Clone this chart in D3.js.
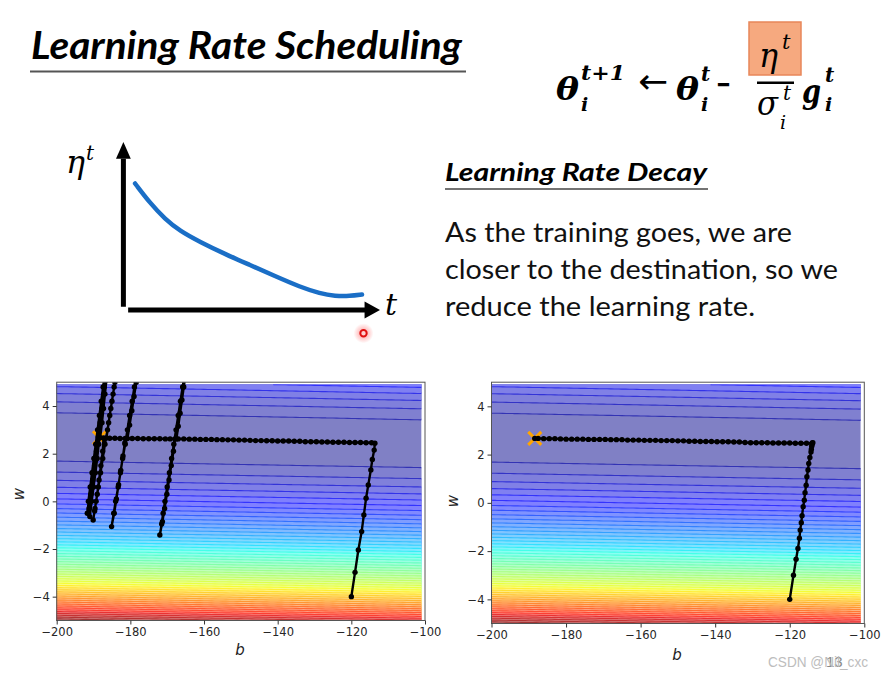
<!DOCTYPE html>
<html><head><meta charset="utf-8">
<script src="https://cdn.jsdelivr.net/npm/d3@7"></script>
<style>body{margin:0;background:#fff} svg{display:block}</style>
</head><body>
<svg id="c" width="884" height="677"></svg>
<script>
// ---------- DATA ----------
const xData = [338, 333, 328, 207, 226, 25, 179, 60, 208, 606];
const yData = [640, 633, 619, 393, 428, 27, 193, 66, 226, 1591];
const bGrid = d3.range(-200, -100, 1);
const wGrid = d3.range(0, 100).map(j => +(-5 + j * 0.1).toFixed(2));
const bTicks = [-200, -180, -160, -140, -120, -100];
const wTicks = [-4, -2, 0, 2, 4];
const optimum = [-188.4, 2.67];

// eta-t sketch curve
const tData =   [0.47, 1.05, 1.63, 2.22, 3.00, 3.97, 4.94, 5.91, 6.89, 7.67, 8.25, 8.83, 9.30];
const etaData = [7.53, 6.37, 5.42, 4.70, 4.05, 3.33, 2.68, 2.02, 1.37, 0.98, 0.83, 0.83, 0.92];

// trajectory: without decay (left)
const leftPath = [
 [-120.0,-4.00],[-119.0,-2.98],[-118.1,-2.04],[-117.2,-1.27],[-116.6,-0.57],[-116.0,0.13],[-115.4,0.69],
 [-114.7,1.32],[-114.3,1.76],[-113.8,2.15],[-113.6,2.44],
 [-114.5,2.46],[-116.0,2.46],[-117.5,2.47],[-119.0,2.47],[-120.5,2.47],[-122.0,2.48],[-123.5,2.48],[-125.0,2.48],
 [-126.5,2.49],[-128.0,2.49],[-129.5,2.50],[-131.0,2.50],[-132.5,2.50],[-134.0,2.52],[-135.5,2.52],[-137.0,2.53],
 [-138.5,2.53],[-140.0,2.53],[-141.5,2.54],[-143.0,2.54],[-144.5,2.55],[-146.0,2.55],[-147.5,2.56],[-149.0,2.57],
 [-150.5,2.57],[-152.0,2.58],[-153.5,2.58],[-155.0,2.59],[-156.5,2.59],[-158.0,2.60],[-159.5,2.60],[-161.0,2.60],
 [-162.5,2.61],[-164.0,2.61],[-165.5,2.62],[-167.0,2.62],[-167.5,2.62],
 [-167.0,3.15],[-166.5,3.70],[-166.0,4.25],[-165.5,4.80],[-165.0,5.35],[-162.1,8.50],
 [-165.2,5.40],[-165.8,4.80],[-166.4,4.20],[-167.0,3.60],[-167.6,3.00],[-168.2,2.40],[-168.8,1.80],[-169.4,1.20],
 [-170.0,0.60],[-170.6,0.00],[-171.1,-0.50],[-171.5,-0.95],[-172.0,-1.41],
 [-171.3,-0.85],[-170.7,-0.30],[-170.1,0.30],[-169.5,0.90],[-168.9,1.50],[-168.3,2.10],[-167.9,2.62],
 [-169.2,2.62],[-170.5,2.62],[-172.0,2.63],[-173.5,2.63],[-175.0,2.63],[-176.5,2.63],[-178.0,2.64],[-179.5,2.64],[-180.8,2.64],
 [-180.2,3.20],[-179.6,3.80],[-179.0,4.40],[-178.4,5.00],[-175.5,8.50],
 [-178.3,5.40],[-178.9,4.80],[-179.5,4.20],[-180.2,3.60],[-180.8,3.00],[-181.4,2.40],[-182.1,1.80],[-182.7,1.20],
 [-183.3,0.60],[-184.0,0.00],[-184.5,-0.50],[-185.1,-1.06],
 [-184.4,-0.50],[-183.8,0.10],[-183.2,0.70],[-182.6,1.30],[-182.0,1.90],[-181.5,2.45],[-181.4,2.64],
 [-182.8,2.64],[-184.2,2.65],[-185.6,2.65],[-186.5,2.66],
 [-185.9,3.30],[-185.3,3.90],[-184.7,4.50],[-184.2,5.00],[-181.0,8.50],
 [-183.8,5.40],[-184.4,4.80],[-185.0,4.20],[-185.6,3.60],[-186.2,3.00],[-186.9,2.40],[-187.5,1.80],[-188.1,1.20],
 [-188.7,0.60],[-189.3,0.00],[-189.7,-0.40],[-190.1,-0.78],
 [-189.6,-0.30],[-189.0,0.30],[-188.5,0.90],[-188.0,1.50],[-187.5,2.10],[-187.3,2.66],[-188.2,2.67],
 [-187.7,3.30],[-187.3,3.90],[-186.9,4.50],[-186.5,5.10],[-183.5,8.50],
 [-186.6,5.40],[-187.1,4.80],[-187.6,4.20],[-188.1,3.60],[-188.7,3.00],[-189.2,2.40],[-189.7,1.80],[-190.2,1.20],
 [-190.7,0.60],[-191.3,0.00],[-191.7,-0.50],
 [-191.2,-0.30],[-190.7,0.30],[-190.2,0.90],[-189.7,1.50],[-189.2,2.10],[-188.7,2.70],[-188.2,3.30],[-187.7,3.90],
 [-187.2,4.50],[-186.7,5.10],[-184.0,8.50],
 [-186.9,5.40],[-187.4,4.80],[-187.9,4.20],[-188.4,3.60],[-188.9,3.00],[-189.4,2.40],[-189.9,1.80],[-190.4,1.20],
 [-190.9,0.60],[-191.4,0.00],[-191.0,-0.64],
 [-190.5,0.00],[-190.0,0.60],[-189.5,1.20],[-189.0,1.80],[-188.6,2.40],[-188.4,2.67]
];

// trajectory: with decay (right)
const rightPath = [
 [-120.0,-4.00],[-119.0,-3.00],[-118.3,-2.34],[-117.8,-1.89],[-117.4,-1.47],[-117.2,-1.13],[-116.9,-0.82],
 [-116.7,-0.53],[-116.4,-0.16],[-116.1,0.11],[-115.9,0.42],[-115.6,0.73],[-115.4,1.08],[-115.1,1.36],
 [-114.9,1.63],[-114.6,1.88],[-114.3,2.11],[-114.2,2.22],[-114.1,2.35],[-114.0,2.42],[-113.8,2.49],
 [-114.0,2.48],[-115.5,2.47],[-117.0,2.47],[-118.5,2.47],[-120.0,2.48],[-121.5,2.48],[-123.0,2.48],[-124.5,2.48],
 [-126.0,2.49],[-127.5,2.49],[-129.0,2.49],[-130.5,2.49],[-132.0,2.50],[-133.5,2.52],[-135.0,2.52],[-136.5,2.53],
 [-138.0,2.53],[-139.5,2.53],[-141.0,2.54],[-142.5,2.54],[-144.0,2.54],[-145.5,2.55],[-147.0,2.55],[-148.5,2.57],
 [-150.0,2.57],[-151.5,2.58],[-153.0,2.58],[-154.5,2.58],[-156.0,2.59],[-157.5,2.59],[-159.0,2.59],[-160.5,2.60],
 [-162.0,2.60],[-163.5,2.60],[-165.0,2.62],[-166.5,2.62],[-168.0,2.62],[-169.5,2.63],[-171.0,2.63],[-172.5,2.63],
 [-174.0,2.63],[-175.5,2.64],[-177.0,2.64],[-178.5,2.64],[-180.0,2.64],[-181.5,2.65],[-183.0,2.66],[-184.5,2.66],
 [-186.0,2.66],[-187.5,2.67],[-188.4,2.67]
];

// ---------- DRAW ----------
const svg = d3.select('#c');
svg.append('rect').attr('width', 884).attr('height', 677).attr('fill', '#fff');
const defs = svg.append('defs');

function txt(x, y, s, size, o = {}) {
  const t = svg.append('text').attr('x', x).attr('y', y).text(s)
    .attr('font-size', size)
    .attr('font-family', o.family || 'Lato, "Open Sans", sans-serif')
    .attr('font-weight', o.weight || 400)
    .attr('font-style', o.style || 'normal')
    .attr('fill', o.fill || '#000');
  if (o.len) t.attr('textLength', o.len).attr('lengthAdjust', 'spacingAndGlyphs');
  if (o.anchor) t.attr('text-anchor', o.anchor);
  return t;
}

// Title
txt(31, 59, 'Learning Rate Scheduling', 39, {weight: 700, style: 'italic', len: 431});
svg.append('line').attr('x1', 30).attr('x2', 466).attr('y1', 71.5).attr('y2', 71.5)
  .attr('stroke', '#555').attr('stroke-width', 2);

// Formula
const MF = '"DejaVu Serif", serif';
const mb = {family: MF, weight: 700, style: 'italic'};
const mi = {family: MF, weight: 400, style: 'italic'};
txt(556, 100, 'θ', 31, Object.assign({len: 23}, mb));
txt(581, 80, 't+1', 20, Object.assign({len: 44}, mb));
txt(581, 111, 'i', 19, mb);
txt(638, 93, '←', 34, {family: '"DejaVu Sans", sans-serif', len: 30});
txt(676, 100, 'θ', 31, Object.assign({len: 23}, mb));
txt(701, 81, 't', 20, mb);
txt(701, 111, 'i', 19, mb);
txt(716, 94, '−', 30, {family: MF, weight: 700, len: 15});
svg.append('rect').attr('x', 749).attr('y', 22).attr('width', 52).attr('height', 53)
  .attr('fill', '#f6a97f').attr('stroke', '#e8875a').attr('stroke-width', 1.5);
txt(759, 67, 'η', 34, Object.assign({len: 19}, mi));
txt(782, 49, 't', 21, mi);
svg.append('line').attr('x1', 757).attr('x2', 794).attr('y1', 82.7).attr('y2', 82.7)
  .attr('stroke', '#000').attr('stroke-width', 2.4);
txt(757, 115, 'σ', 34, Object.assign({len: 21}, mi));
txt(783, 100, 't', 20, mi);
txt(780, 129, 'i', 19, mi);
txt(802, 103, 'g', 33, Object.assign({len: 19}, mb));
txt(825, 82, 't', 20, mb);
txt(825, 111, 'i', 19, mb);

// eta-t sketch
const sx = d3.scaleLinear([0, 10], [123, 380]);
const sy = d3.scaleLinear([0, 10], [310, 142]);
svg.append('line').attr('x1', sx(0) + 0.4).attr('x2', sx(0) + 0.4).attr('y1', sy(0.2)).attr('y2', sy(9.0))
  .attr('stroke', '#000').attr('stroke-width', 5);
svg.append('path').attr('d', d3.line()([[sx(0) - 7, sy(9.0)], [sx(0) + 7.8, sy(9.0)], [sx(0) + 0.4, sy(10)]]) + 'Z').attr('fill', '#000');
svg.append('line').attr('x1', sx(0.2)).attr('x2', sx(9.45)).attr('y1', sy(0)).attr('y2', sy(0))
  .attr('stroke', '#000').attr('stroke-width', 5);
svg.append('path').attr('d', d3.line()([[sx(9.4), sy(0) - 8.5], [sx(9.4), sy(0) + 8.5], [sx(10), sy(0)]]) + 'Z').attr('fill', '#000');
svg.append('path').datum(tData.map((t, i) => [t, etaData[i]]))
  .attr('d', d3.line().x(d => sx(d[0])).y(d => sy(d[1])).curve(d3.curveBasis))
  .attr('fill', 'none').attr('stroke', '#1a6ec6').attr('stroke-width', 4.5).attr('stroke-linecap', 'round');
txt(66, 173, 'η', 32, Object.assign({len: 19}, mi));
txt(86, 160, 't', 20, mi);
txt(385, 315, 't', 30, mi);
// cursor marker
const rg = defs.append('radialGradient').attr('id', 'glow');
rg.append('stop').attr('offset', '0%').attr('stop-color', '#ff4040').attr('stop-opacity', 0.55);
rg.append('stop').attr('offset', '100%').attr('stop-color', '#ff4040').attr('stop-opacity', 0);
svg.append('circle').attr('cx', 363.5).attr('cy', 333.3).attr('r', 10).attr('fill', 'url(#glow)');
svg.append('circle').attr('cx', 363.5).attr('cy', 333.3).attr('r', 3.2).attr('fill', '#ffd0d0')
  .attr('stroke', '#e01010').attr('stroke-width', 2);

// Right text
txt(445, 180.7, 'Learning Rate Decay', 24, {weight: 700, style: 'italic', len: 262});
svg.append('line').attr('x1', 445).attr('x2', 708).attr('y1', 189).attr('y2', 189)
  .attr('stroke', '#444').attr('stroke-width', 1.5);
txt(445, 241.7, 'As the training goes, we are', 27, {len: 347, fill: '#111'});
txt(445, 279.3, 'closer to the destination, so we', 27, {len: 393, fill: '#111'});
txt(445, 316, 'reduce the learning rate.', 27, {len: 310, fill: '#111'});

// ---------- loss surface ----------
const nb = bGrid.length, nw = wGrid.length;
const Z = new Float64Array(nb * nw);
for (let j = 0; j < nw; j++) for (let i = 0; i < nb; i++) {
  let s = 0;
  for (let n = 0; n < xData.length; n++) { const r = yData[n] - bGrid[i] - wGrid[j] * xData[n]; s += r * r; }
  Z[j * nb + i] = s / xData.length;
}
const zmin = d3.min(Z), zmax = d3.max(Z);
const step = d3.tickStep(zmin, zmax, 50);
const levels = d3.range(Math.floor(zmin / step) * step, Math.ceil(zmax / step) * step + step / 2, step);
const contours = d3.contours().size([nb, nw]).thresholds(levels.slice(0, -1))(Z);

function interp(v, st) {
  for (let k = 1; k < st.length; k++) if (v <= st[k][0]) {
    const a = st[k - 1], b = st[k]; return a[1] + (b[1] - a[1]) * (v - a[0]) / (b[0] - a[0]);
  }
  return st[st.length - 1][1];
}
function jet(v) {
  return [interp(v, [[0, 0], [0.35, 0], [0.66, 1], [0.89, 1], [1, 0.5]]),
          interp(v, [[0, 0], [0.125, 0], [0.375, 1], [0.64, 1], [0.91, 0], [1, 0]]),
          interp(v, [[0, 0.5], [0.11, 1], [0.34, 1], [0.65, 0], [1, 0]])];
}
const L0 = levels[0], L1 = levels[levels.length - 1];
function bandCol(k, a, w) {
  const v = ((levels[k] + levels[k + 1]) / 2 - L0) / (L1 - L0);
  const c = jet(v);
  return d3.rgb(...c.map(u => 255 * (a * u + w)));
}

function drawPanel(xr, yr, traj, bLab, wLab) {
  const x = d3.scaleLinear([-200, -100], xr), y = d3.scaleLinear([-5, 5], yr);
  const id = 'p' + Math.round(xr[0]);
  const db = bGrid[1] - bGrid[0], dw = wGrid[1] - wGrid[0];
  defs.append('clipPath').attr('id', id + 'f').append('rect')
    .attr('x', x(bGrid[0])).attr('y', y(wGrid[nw - 1]))
    .attr('width', x(bGrid[nb - 1]) - x(bGrid[0])).attr('height', y(wGrid[0]) - y(wGrid[nw - 1]));
  defs.append('clipPath').attr('id', id + 'a').append('rect')
    .attr('x', xr[0]).attr('y', yr[1]).attr('width', xr[1] - xr[0]).attr('height', yr[0] - yr[1]);
  const proj = d3.geoTransform({point(u, v) {
    this.stream.point(x(bGrid[0] + (u - 0.5) * db), y(wGrid[0] + (v - 0.5) * dw));
  }});
  const gp = d3.geoPath(proj);
  svg.append('g').attr('clip-path', `url(#${id}f)`)
    .selectAll('path').data(contours).join('path')
    .attr('d', gp)
    .attr('fill', (d, i) => bandCol(i, 0.5, 0.5))
    .attr('stroke', (d, i) => bandCol(i, 0.8, 0.2))
    .attr('stroke-width', 1.1);

  const pg = svg.append('g').attr('clip-path', `url(#${id}a)`);
  const ox = x(optimum[0]), oy = y(optimum[1]), h = 6.5;
  pg.append('path').attr('d', `M${ox - h},${oy - h}L${ox + h},${oy + h}M${ox - h},${oy + h}L${ox + h},${oy - h}`)
    .attr('stroke', '#ffa500').attr('stroke-width', 3).attr('fill', 'none');
  pg.append('path').datum(traj).attr('d', d3.line().x(d => x(d[0])).y(d => y(d[1])))
    .attr('fill', 'none').attr('stroke', '#000').attr('stroke-width', 2.4);
  pg.selectAll('circle').data(traj).join('circle')
    .attr('cx', d => x(d[0])).attr('cy', d => y(d[1])).attr('r', 2.7).attr('fill', '#000');

  svg.append('rect').attr('x', xr[0]).attr('y', yr[1]).attr('width', xr[1] - xr[0]).attr('height', yr[0] - yr[1])
    .attr('fill', 'none').attr('stroke', '#555').attr('stroke-width', 1);
  const ax = svg.append('g').attr('transform', `translate(0,${yr[0]})`)
    .call(d3.axisBottom(x).tickValues(bTicks).tickSize(4).tickPadding(3));
  const ay = svg.append('g').attr('transform', `translate(${xr[0]},0)`)
    .call(d3.axisLeft(y).tickValues(wTicks).tickSize(4).tickPadding(3));
  [ax, ay].forEach(a => {
    a.select('.domain').remove();
    a.selectAll('line').attr('stroke', '#333');
    a.selectAll('text').attr('font-family', '"DejaVu Sans", sans-serif').attr('font-size', 11.5).attr('fill', '#262626');
  });
  txt(bLab[0], bLab[1], 'b', 15, {family: '"DejaVu Sans", sans-serif', style: 'italic', anchor: 'middle', fill: '#222'});
  txt(0, 0, 'w', 15, {family: '"DejaVu Sans", sans-serif', style: 'italic', anchor: 'middle', fill: '#222'})
    .attr('transform', `translate(${wLab[0]},${wLab[1]}) rotate(-90)`);
}

drawPanel([56.7, 425], [620.5, 382.2], leftPath, [240, 655], [24, 494]);
drawPanel([491.5, 864.3], [623.5, 382.2], rightPath, [677, 660], [458, 501]);

// footer (slide number under the watermark, as in the screenshot)
txt(826, 667, '13', 15, {family: '"Liberation Sans", Arial, sans-serif', fill: '#8a8a8a'});
txt(768, 667, 'CSDN @Nil_cxc', 15, {family: '"Liberation Sans", Arial, sans-serif', fill: '#bdbdbd', len: 100});
</script>
</body></html>
